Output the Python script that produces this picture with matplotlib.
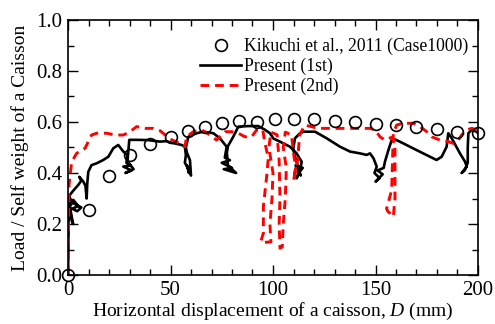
import matplotlib
matplotlib.use("Agg")
from matplotlib import pyplot as plt
from matplotlib.ticker import MultipleLocator

# Experiment (Kikuchi et al., 2011)
exp_d = [0, 10, 20, 30, 40, 50, 58.5, 67, 75, 83.4, 92, 101, 110, 120,
         130, 140, 150, 160, 170, 180, 190, 200]
exp_load = [0.0, 0.255, 0.39, 0.47, 0.515, 0.542, 0.565, 0.579, 0.595, 0.604,
            0.601, 0.611, 0.611, 0.611, 0.604, 0.599, 0.592, 0.587, 0.582,
            0.573, 0.562, 0.556]

# Present analysis, 1st
first_d = [0, 0.2, 0.3, 0.4, 1.5, 2.5, 1.8, 0.8, 3, 5, 2, 4.5, 6.5, 3, 1, 0.5,
           2.5, 5, 6.5, 5.5, 7.5, 8.5, 9.1, 9.4, 9.9, 11.5, 14, 17.2, 19.7,
           22.1, 24.5, 27, 29, 28.5, 30.5, 27, 31, 28, 32, 29, 29.9, 34, 39,
           44.9, 48, 49.8, 55.4, 57, 57.5, 57, 58.5, 59, 58, 60, 59.5, 58,
           57.5, 58.7, 62.8, 66, 70.9, 74.1, 77.4, 76.5, 79, 75, 80, 76, 82,
           78, 77.5, 78, 80.6, 83.1, 88, 92.8, 96, 98.5, 100.2, 103.4, 108.3,
           111.5, 114, 113.2, 111.5, 112.5, 114.5, 111, 113.5, 110.5, 109.9,
           110.7, 113.2, 114.8, 120.5, 126.2, 132.7, 137.6, 142.4, 145.7,
           147.3, 149, 150.6, 149.5, 152, 150, 153.5, 151, 154, 154.6, 156.3,
           157.9, 159.5, 163.6, 170, 176.6, 179.8, 182.3, 184.7, 185.5, 187.2,
           191.2, 193.7, 194.5, 192, 193.5, 195, 195, 195.3, 196.9, 199.3, 200]
first_load = [0.0, 0.1, 0.2, 0.31, 0.22, 0.20, 0.23, 0.27, 0.29, 0.27, 0.26,
              0.25, 0.265, 0.28, 0.30, 0.31, 0.33, 0.353, 0.37, 0.385, 0.366,
              0.35, 0.30, 0.36, 0.405, 0.431, 0.438, 0.451, 0.464, 0.497, 0.51,
              0.484, 0.47, 0.44, 0.43, 0.425, 0.41, 0.40, 0.415, 0.445, 0.53,
              0.53, 0.529, 0.523, 0.525, 0.52, 0.51, 0.503, 0.47, 0.44, 0.42,
              0.40, 0.43, 0.39, 0.45, 0.48, 0.50, 0.542, 0.556, 0.562, 0.556,
              0.536, 0.503, 0.46, 0.45, 0.44, 0.42, 0.415, 0.40, 0.43, 0.48,
              0.505, 0.542, 0.582, 0.584, 0.584, 0.57, 0.556, 0.535, 0.523,
              0.503, 0.477, 0.444, 0.412, 0.379, 0.40, 0.42, 0.43, 0.39, 0.47,
              0.497, 0.536, 0.556, 0.562, 0.562, 0.536, 0.503, 0.484, 0.477,
              0.471, 0.477, 0.458, 0.425, 0.40, 0.38, 0.366, 0.395, 0.41, 0.42,
              0.444, 0.49, 0.529, 0.532, 0.516, 0.49, 0.464, 0.451, 0.464,
              0.503, 0.556, 0.536, 0.477, 0.444, 0.425, 0.40, 0.41, 0.44, 0.50,
              0.556, 0.569, 0.562, 0.556]

# Present analysis, 2nd
second_d = [0, 0.3, 0.5, 1.8, 4.2, 8.3, 9.9, 11.5, 14, 18.9, 22.9, 27, 30.2,
            33.5, 37.6, 41.6, 44.9, 49.8, 54.6, 57, 57.9, 61.1, 65.2, 69.3,
            72.5, 76.6, 79.9, 83.1, 86.3, 89.6, 92, 95, 96, 97.7, 96.9, 95.3,
            95.3, 94, 96, 99, 98.5, 99.5, 100, 98, 99, 102, 103, 103.4, 103,
            103.4, 104.5, 105, 106, 106.5, 105, 106, 109, 110, 111, 110, 112,
            113, 115.6, 122, 130, 140, 147.3, 149.8, 152.2, 154.6, 157.9,
            159.5, 159.5, 159.5, 158.7, 156, 155.4, 157.9, 158.3, 158.7, 160.3,
            163.6, 168.5, 171.7, 175, 177.4, 181.5, 185.5, 188, 190.4, 192,
            194.5, 196.9, 200]
second_load = [0.0, 0.2, 0.353, 0.444, 0.477, 0.497, 0.523, 0.549, 0.556,
               0.556, 0.549, 0.549, 0.562, 0.582, 0.575, 0.575, 0.566, 0.533,
               0.516, 0.503, 0.542, 0.562, 0.569, 0.549, 0.529, 0.562, 0.562,
               0.556, 0.542, 0.542, 0.569, 0.57, 0.52, 0.458, 0.386, 0.268,
               0.164, 0.13, 0.128, 0.13, 0.2, 0.3, 0.4, 0.5, 0.56, 0.55, 0.45,
               0.3, 0.2, 0.105, 0.11, 0.2, 0.3, 0.42, 0.5, 0.56, 0.55, 0.48,
               0.42, 0.37, 0.45, 0.55, 0.588, 0.575, 0.575, 0.575, 0.575, 0.569,
               0.542, 0.529, 0.54, 0.52, 0.4, 0.3, 0.229, 0.25, 0.26, 0.333,
               0.45, 0.556, 0.588, 0.595, 0.595, 0.582, 0.562, 0.542, 0.529,
               0.523, 0.516, 0.529, 0.549, 0.569, 0.575, 0.569]

plt.rcParams['font.family'] = 'Liberation Serif'
plt.rcParams['mathtext.fontset'] = 'custom'
plt.rcParams['mathtext.it'] = 'Liberation Serif:italic'
plt.rcParams['mathtext.rm'] = 'Liberation Serif'

fig = plt.figure(figsize=(4.95, 3.24), dpi=100)
ax = fig.add_axes([68 / 495, 49 / 324, 410 / 495, 255 / 324])

ax.plot(first_d, first_load, color='black', lw=1.9, label='Present (1st)')
ax.plot(second_d, second_load, color='red', lw=2.1, ls=(0, (3, 2)),
        label='Present (2nd)')
ax.plot(exp_d, exp_load, ls='none', marker='o', ms=8.5, mfc='none',
        mec='black', mew=1.2, label='Kikuchi et al., 2011 (Case1000)',
        clip_on=False)

ax.set_xlim(0, 200)
ax.set_ylim(0, 1.0)
ax.xaxis.set_major_locator(MultipleLocator(50))
ax.xaxis.set_minor_locator(MultipleLocator(10))
ax.yaxis.set_major_locator(MultipleLocator(0.2))
ax.yaxis.set_minor_locator(MultipleLocator(0.1))
ax.set_yticks([0, 0.2, 0.4, 0.6, 0.8, 1.0])
ax.set_yticklabels(['0.0', '0.2', '0.4', '0.6', '0.8', '1.0'])
ax.tick_params(which='both', direction='in', top=True, right=True,
               labelsize=15, width=1)
ax.tick_params(which='major', length=7, pad=4)
ax.tick_params(which='minor', length=4)
for s in ax.spines.values():
    s.set_linewidth(1.2)

ax.set_xlabel('Horizontal displacement of a caisson, $D$ (mm)', fontsize=14,
              labelpad=1)
ax.set_ylabel('Load / Self weight of a Caisson', fontsize=14, labelpad=5)

h, l = ax.get_legend_handles_labels()
ax.legend([h[2], h[0], h[1]], [l[2], l[0], l[1]], loc='upper right',
          bbox_to_anchor=(0.99, 0.95), frameon=False, fontsize=12.7,
          handlelength=2.3, handletextpad=0.2, labelspacing=0.15,
          borderaxespad=0, borderpad=0.3)

fig.savefig('out.png', dpi=100)
